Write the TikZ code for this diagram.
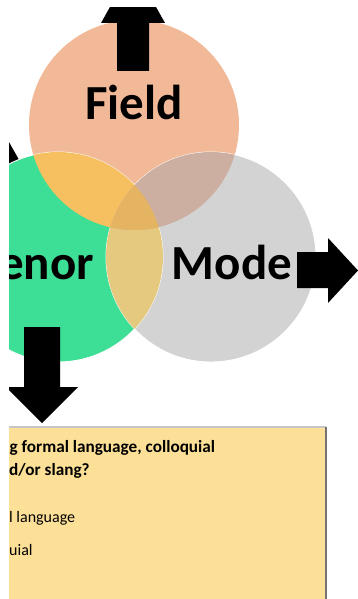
\documentclass[tikz,border=0pt]{standalone}
\usepackage{fontspec}
\setmainfont{Carlito}
\usetikzlibrary{calc}

\definecolor{fieldc}{RGB}{242,185,152}
\definecolor{tenorc}{RGB}{61,222,149}
\definecolor{modec}{RGB}{211,211,211}
\definecolor{ftc}{RGB}{246,191,96}
\definecolor{fmc}{RGB}{204,175,161}
\definecolor{tmc}{RGB}{229,201,126}
\definecolor{ftmc}{RGB}{228,180,98}
\definecolor{boxc}{RGB}{253,224,151}

\begin{document}
\begin{tikzpicture}[x=1pt,y=-1pt,
  big/.style={font=\fontsize{49}{58}\selectfont\bfseries, inner sep=0},
  qline/.style={font=\fontsize{17.2}{21}\selectfont\bfseries, inner sep=0, anchor=base west},
  aline/.style={font=\fontsize{16}{20}\selectfont, inner sep=0, anchor=base west},
  blockarrow/.style={fill=black}]
\useasboundingbox (0,0) rectangle (358,599);
\clip (9,8) rectangle (358,599);
\coordinate (F) at (134,125);
\coordinate (T) at (58,257);
\coordinate (M) at (211,257);
% arrow tip behind the tenor circle
\fill[blockarrow] (-20,91) -- (22,165) -- (-20,239) -- cycle;
% the three circles
\foreach \c/\col in {F/fieldc, T/tenorc, M/modec}
  \fill[\col] (\c) circle (105pt);
\draw[white, line width=0.9] (M) circle (105pt);
\draw[white, line width=0.9] (T) circle (105pt);
\begin{scope}
  \clip (T) circle (105pt);
  \fill[tmc] (M) circle (105pt);
\end{scope}
\begin{scope}
  \clip (F) circle (105pt);
  \fill[ftc] (T) circle (105pt);
  \fill[fmc] (M) circle (105pt);
  \clip (T) circle (105pt);
  \fill[ftmc] (M) circle (105pt);
\end{scope}
\node[big, anchor=base] (field) at (134,119) {Field};
\node[big, anchor=base] (mode) at (232,279) {Mode};
\node[big, anchor=base east] (tenor) at (94,279) {enor};
% block arrows
\fill[blockarrow] (117,71) -- (117,23) -- (101,23) -- (133,-34) -- (165,23) -- (149,23) -- (149,71) -- cycle;
\fill[blockarrow] (297,252) -- (328,252) -- (328,238) -- (358,270.5) -- (328,303) -- (328,288) -- (297,288) -- cycle;
\fill[blockarrow] (24,327) -- (60,327) -- (60,387) -- (78,387) -- (42,423) -- (6,387) -- (24,387) -- cycle;
% question box
\fill[boxc] (-20,427) rectangle (326,620);
\draw[gray!45, line width=2] (-20,427) -- (326,427);
\draw[gray!90!black, line width=1.2] (326,427) -- (326,620);
\node[qline] (q1) at (9.5,452) {g formal language, colloquial};
\node[qline] (q2) at (9,475) {d/or slang?};
\node[aline] (a1) at (9,522) {l language};
\node[aline] (a2) at (9,555) {uial};
\end{tikzpicture}
\end{document}
